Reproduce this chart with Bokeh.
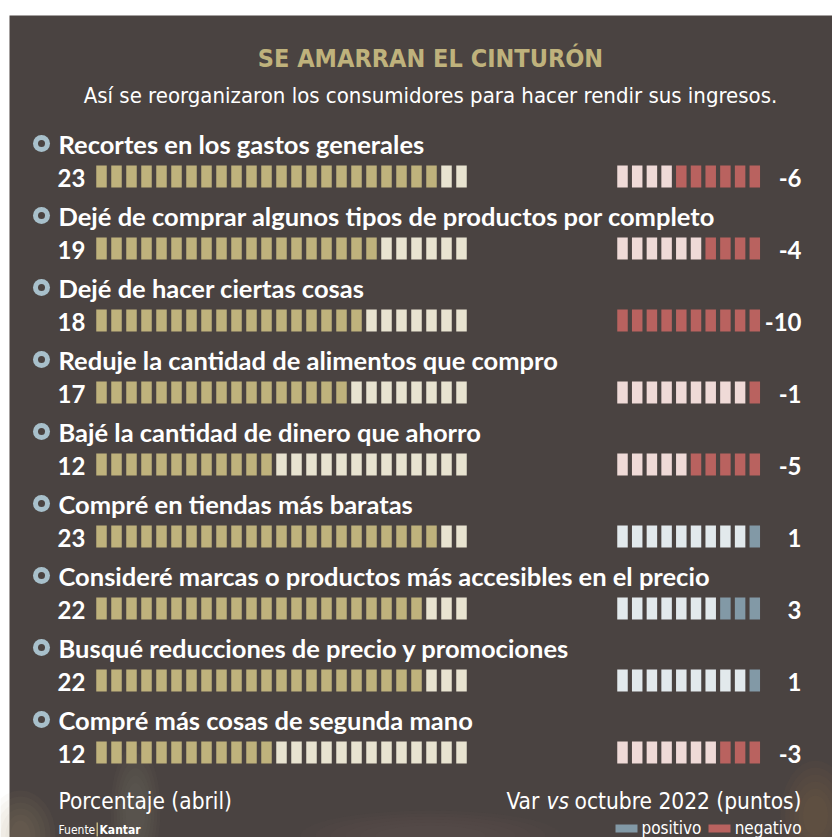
from bokeh.plotting import figure
from bokeh.models import Range1d
from bokeh.core.properties import value
from bokeh.embed import file_html
from bokeh.resources import INLINE

title = "SE AMARRAN EL CINTURÓN"
subtitle = "Así se reorganizaron los consumidores para hacer rendir sus ingresos."
labels = [
    "Recortes en los gastos generales",
    "Dejé de comprar algunos tipos de productos por completo",
    "Dejé de hacer ciertas cosas",
    "Reduje la cantidad de alimentos que compro",
    "Bajé la cantidad de dinero que ahorro",
    "Compré en tiendas más baratas",
    "Consideré marcas o productos más accesibles en el precio",
    "Busqué reducciones de precio y promociones",
    "Compré más cosas de segunda mano",
]
porcentaje = [23, 19, 18, 17, 12, 23, 22, 22, 12]
variacion = [-6, -4, -10, -1, -5, 1, 3, 1, -3]
left_total = 25
right_total = 10

BG = "#4a4341"
GOLD = "#bfb27c"
GOLD_L = "#e8e3d0"
RED = "#b9625f"
RED_L = "#efdad7"
BLUE = "#8299a6"
BLUE_L = "#e2e9ec"
RING = "#a8c0cb"
FONT = "Lato"
NARROW = "'DejaVu Sans Condensed', 'Roboto', sans-serif"

W, H = 832, 837
p = figure(width=W, height=H, x_range=Range1d(0, W), y_range=Range1d(H, 0),
           output_backend="svg", toolbar_location=None, min_border=0)
p.axis.visible = False
p.grid.visible = False
p.outline_line_color = None
p.background_fill_color = "white"
p.border_fill_color = "white"

# panel
p.quad(left=9, right=832, top=15, bottom=837, fill_color=BG, line_color=None)

# soft, blurred photo glows near the bottom
for k in range(6):
    a = 0.05
    p.ellipse(x=[20], y=[835], width=[70 - k * 10], height=[90 - k * 12],
              fill_color="#b8a070", fill_alpha=a, line_color=None)
    p.ellipse(x=[135], y=[810], width=[50 - k * 6], height=[130 - k * 15],
              fill_color="#8a8278", fill_alpha=a, line_color=None)
    p.ellipse(x=[815], y=[815], width=[70 - k * 9], height=[110 - k * 14],
              fill_color="#9a7a58", fill_alpha=a, line_color=None)
    p.ellipse(x=[430], y=[835], width=[260 - k * 30], height=[50 - k * 6],
              fill_color="#7a6a5c", fill_alpha=a, line_color=None)

p.text(x=[430], y=[58], text=[title], text_font=value(NARROW), text_font_style="bold",
       text_font_size="25px", text_color=GOLD, text_align="center", text_baseline="middle")
p.text(x=[430], y=[95], text=[subtitle], text_font=value(NARROW),
       text_font_size="22px", text_color="white", text_align="center", text_baseline="middle")

row0 = 143
pitch = 72
sx, sy, sc = [], [], []
for i, (pv, vv) in enumerate(zip(porcentaje, variacion)):
    ys = row0 + i * pitch + 33
    for j in range(left_total):
        sx.append(101 + j * 15)
        sy.append(ys)
        sc.append(GOLD if j < pv else GOLD_L)
    n = abs(vv)
    dark = RED if vv < 0 else BLUE
    light = RED_L if vv < 0 else BLUE_L
    for j in range(right_total):
        sx.append(622 + j * 14.7)
        sy.append(ys)
        sc.append(dark if j >= right_total - n else light)

p.rect(x=sx, y=sy, width=10.5, height=22, fill_color=sc, line_color=None)

ys_rows = [row0 + i * pitch for i in range(len(labels))]
p.scatter(x=[41] * len(labels), y=ys_rows, size=17, fill_color=RING, line_color=None)
p.scatter(x=[41] * len(labels), y=ys_rows, size=7, fill_color=BG, line_color=None)
p.text(x=[58] * len(labels), y=ys_rows, text=labels, text_font=value(FONT), text_font_style="bold",
       text_font_size="25.5px", text_color="white", text_align="left", text_baseline="middle")
p.text(x=[57] * len(labels), y=[y + 34 for y in ys_rows], text=[str(v) for v in porcentaje],
       text_font=value(FONT), text_font_style="bold", text_font_size="24px", text_color="white",
       text_align="left", text_baseline="middle")
p.text(x=[801] * len(labels), y=[y + 34 for y in ys_rows], text=[str(v) for v in variacion],
       text_font=value(FONT), text_font_style="bold", text_font_size="24px", text_color="white",
       text_align="right", text_baseline="middle")

# footer
FS = "22.5px"
p.text(x=[58], y=[800], text=["Porcentaje (abril)"], text_font=value(NARROW), text_font_size=FS,
       text_color="white", text_align="left", text_baseline="middle")
p.text(x=[506], y=[800], text=["Var"], text_font=value(NARROW), text_font_size=FS,
       text_color="white", text_align="left", text_baseline="middle")
p.text(x=[546], y=[800], text=["vs"], text_font=value(NARROW), text_font_style="italic",
       text_font_size=FS, text_color="white", text_align="left", text_baseline="middle")
p.text(x=[801], y=[800], text=["octubre 2022 (puntos)"], text_font=value(NARROW), text_font_size=FS,
       text_color="white", text_align="right", text_baseline="middle")

p.quad(left=615, right=637, top=824, bottom=832, fill_color=BLUE, line_color=None)
p.text(x=[641], y=[827], text=["positivo"], text_font=value(NARROW), text_font_size="17px",
       text_color="white", text_align="left", text_baseline="middle")
p.quad(left=708, right=730, top=824, bottom=832, fill_color=RED, line_color=None)
p.text(x=[801], y=[827], text=["negativo"], text_font=value(NARROW), text_font_size="17px",
       text_color="white", text_align="right", text_baseline="middle")

p.text(x=[58], y=[829], text=["Fuente"], text_font=value(NARROW), text_font_size="12px",
       text_color="white", text_align="left", text_baseline="middle")
p.quad(left=96, right=97.5, top=822, bottom=836, fill_color=GOLD, line_color=None)
p.text(x=[99], y=[829], text=["Kantar"], text_font=value(NARROW), text_font_style="bold",
       text_font_size="12px", text_color="white", text_align="left", text_baseline="middle")

open("out.html", "w").write(file_html(p, INLINE))
